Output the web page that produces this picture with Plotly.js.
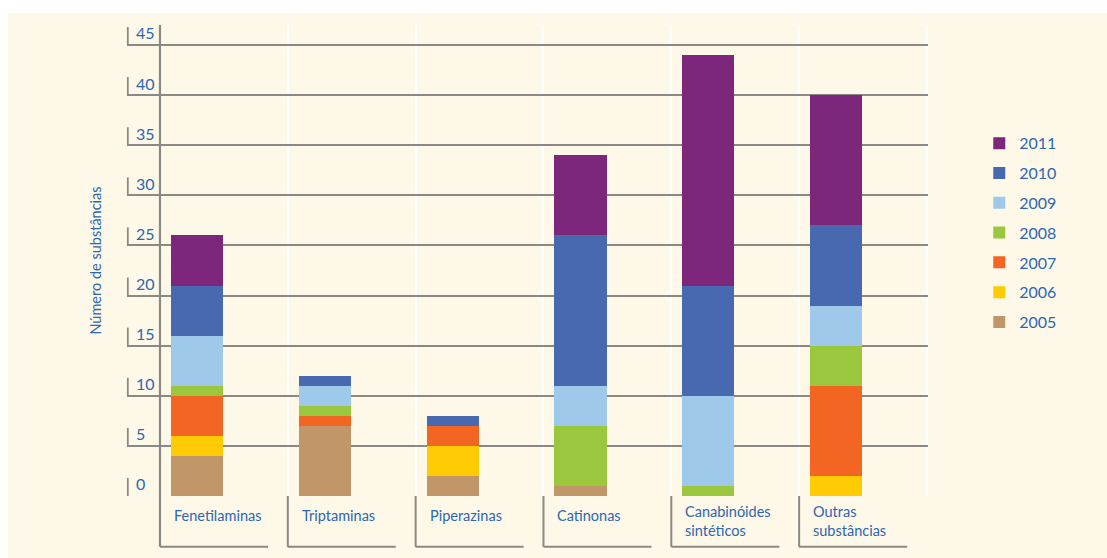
<!DOCTYPE html>
<html>
<head>
<meta charset="utf-8">
<script src="https://cdn.plot.ly/plotly-3.0.1.min.js"></script>
<style>
  html, body { margin: 0; padding: 0; background: #ffffff; }
  #chart { position: absolute; left: 8px; top: 13px; width: 1099px; height: 545px; }
</style>
</head>
<body>
<div id="chart"></div>
<script>
// Novas substâncias psicoativas notificadas, por grupo e por ano
const categories = ['Fenetilaminas', 'Triptaminas', 'Piperazinas', 'Catinonas', 'Canabinóides sintéticos', 'Outras substâncias'];
const categoryLabels = ['Fenetilaminas', 'Triptaminas', 'Piperazinas', 'Catinonas', 'Canabinóides<br>sintéticos', 'Outras<br>substâncias'];
const years = ['2005', '2006', '2007', '2008', '2009', '2010', '2011'];

const v2005 = [4, 7, 2, 1, 0, 0];
const v2006 = [2, 0, 3, 0, 0, 2];
const v2007 = [4, 1, 2, 0, 0, 9];
const v2008 = [1, 1, 0, 6, 1, 4];
const v2009 = [5, 2, 0, 4, 9, 4];
const v2010 = [5, 1, 1, 15, 11, 8];
const v2011 = [5, 0, 0, 8, 23, 13];

const yearColors = ['#C1976A', '#FFCB05', '#F26522', '#9AC73D', '#9FC9EA', '#4868B0', '#7C277B'];
const yTicks = [0, 5, 10, 15, 20, 25, 30, 35, 40, 45];

const series = [v2005, v2006, v2007, v2008, v2009, v2010, v2011];
const textBlue = '#2C67AE';
const gridGray = '#8a8984';
const font = 'Lato, "Open Sans", sans-serif';

// stacked from 2005 at the bottom; the legend lists the newest year first
const traces = years.map((yr, k) => ({
  type: 'bar',
  name: yr,
  legendgroup: yr,
  legendrank: years.length - k,
  x: categories,
  y: series[k],
  offset: -0.414,
  width: 0.407,
  marker: { color: yearColors[k], line: { width: 0 } },
  hoverinfo: 'skip'
}));

// Bottom of the category boxes, in paper units below the plot
const boxBottom = -0.108;
const shapes = [];

// vertical axis line running down into the category boxes
shapes.push({ type: 'line', xref: 'x', yref: 'paper', x0: -0.5, x1: -0.5, y0: boxBottom, y1: 1,
  line: { color: gridGray, width: 2.2 } });

categories.forEach((c, i) => {
  if (i > 0) {
    shapes.push({ type: 'line', xref: 'x', yref: 'paper', x0: i - 0.5, x1: i - 0.5, y0: boxBottom, y1: 0,
      line: { color: gridGray, width: 2 } });
  }
  shapes.push({ type: 'line', xref: 'x', yref: 'paper', x0: i - 0.5, x1: i + 0.345, y0: boxBottom, y1: boxBottom,
    line: { color: gridGray, width: 2 } });
});

// short marks at the left end of each gridline
yTicks.forEach(v => {
  shapes.push({ type: 'line', xref: 'paper', yref: 'y', x0: 0.001, x1: 0.001, y0: v, y1: v + 1.8,
    line: { color: gridGray, width: 1.8 } });
});

const annotations = categoryLabels.map((lab, i) => {
  const lines = lab.split('<br>').length;
  return {
    text: lab, xref: 'x', yref: 'paper', x: i, y: 0,
    xanchor: 'left', yanchor: 'top', align: 'left',
    xshift: -52, yshift: lines > 1 ? -5 : -9,
    showarrow: false,
    font: { family: font, size: 14.5, color: textBlue }
  };
});

const layout = {
  width: 1099, height: 545,
  margin: { l: 119, r: 179, t: 12, b: 62 },
  paper_bgcolor: '#FEF8E9',
  plot_bgcolor: '#FEF8E9',
  barmode: 'stack',
  showlegend: true,
  legend: {
    traceorder: 'grouped',
    x: 1.064, xanchor: 'left',
    y: 0.785, yanchor: 'top',
    tracegroupgap: 6,
    bgcolor: 'rgba(0,0,0,0)',
    font: { family: font, size: 16, color: textBlue }
  },
  xaxis: {
    type: 'category',
    range: [-0.758, 5.508],
    showticklabels: false,
    ticks: '',
    tickson: 'boundaries',
    showgrid: true,
    gridcolor: 'rgba(255,255,255,0.95)',
    gridwidth: 2,
    zeroline: false,
    showline: false,
    fixedrange: true
  },
  yaxis: {
    range: [0, 47],
    tickvals: yTicks,
    ticktext: yTicks.map(String),
    ticklabelposition: 'inside top',
    ticklabeloverflow: 'allow',
    ticklabelstandoff: 6,
    ticks: '',
    tickfont: { family: font, size: 16, color: textBlue },
    showgrid: true,
    gridcolor: gridGray,
    gridwidth: 2,
    zeroline: false,
    showline: false,
    fixedrange: true,
    title: {
      text: 'Número de substâncias',
      standoff: 30,
      font: { family: font, size: 14.5, color: textBlue }
    }
  },
  shapes: shapes,
  annotations: annotations
};

Plotly.newPlot('chart', traces, layout, { staticPlot: true, displayModeBar: false });
</script>
</body>
</html>
